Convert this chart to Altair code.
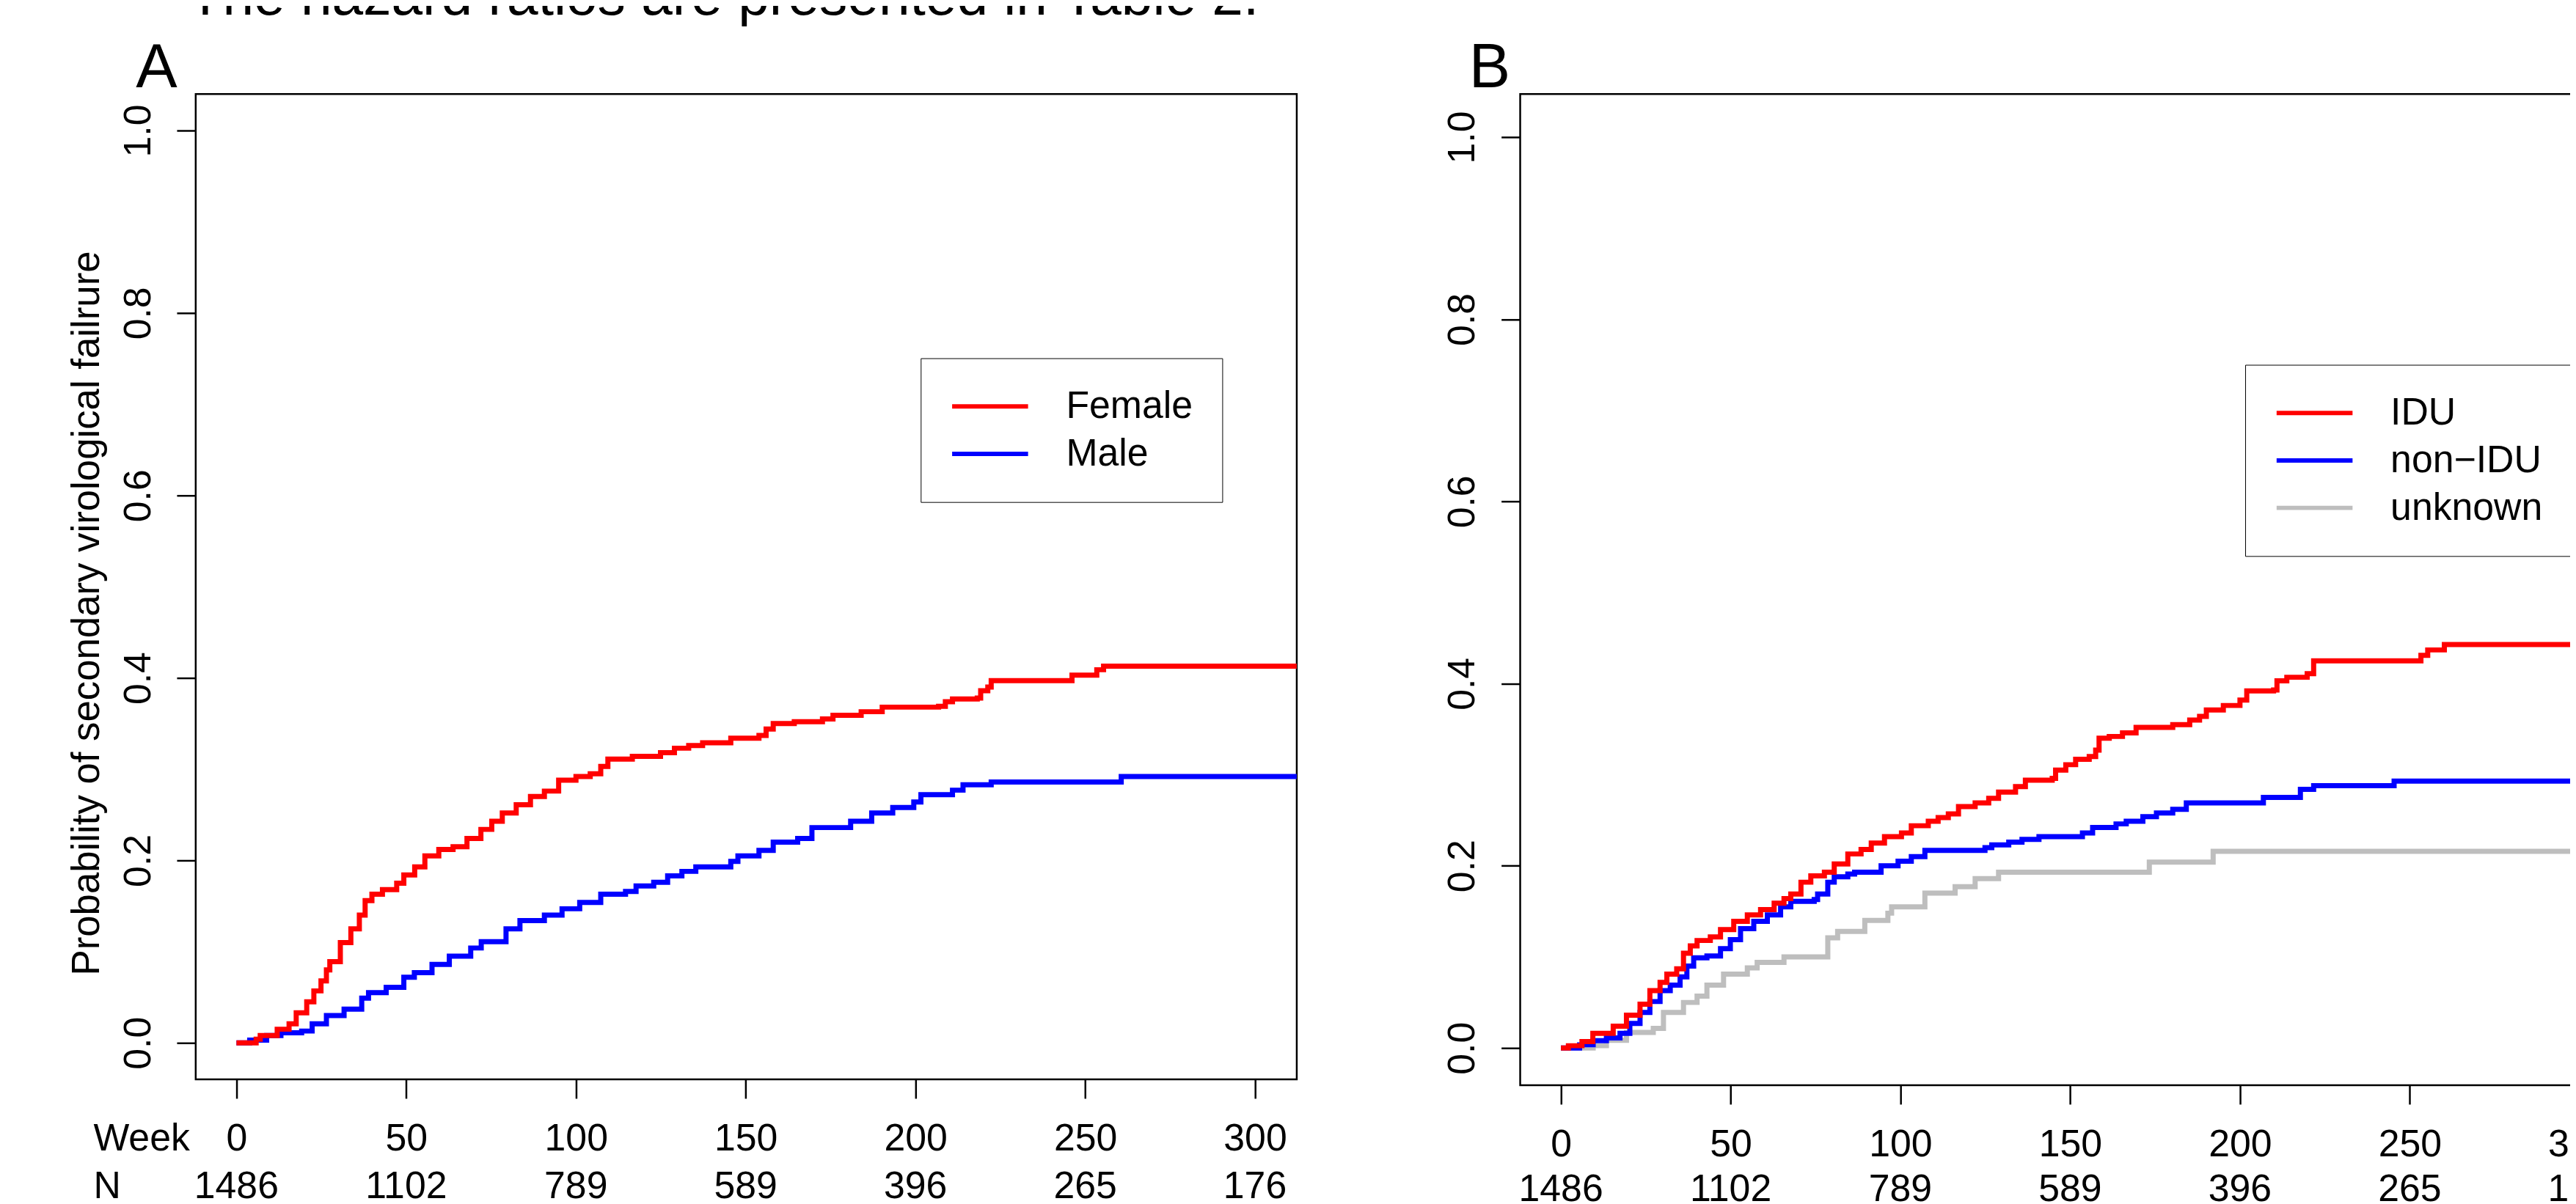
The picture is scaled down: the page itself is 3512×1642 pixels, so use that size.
import altair as alt
import pandas as pd

FONT = "Liberation Sans"

# ---- axis values / labels ----
week_ticks = [0, 50, 100, 150, 200, 250, 300]
n_at_risk = [1486, 1102, 789, 589, 396, 265, 176]
y_ticks = [0.0, 0.2, 0.4, 0.6, 0.8, 1.0]

# ---- Panel A: sex ----
female_week = [0, 5.8, 7.0, 12.0, 15.5, 17.6, 20.7, 22.8, 24.9, 26.5, 27.5, 30.6, 33.7, 36.2, 37.9,
               39.9, 43.0, 47.2, 49.3, 52.5, 55.5, 59.6, 63.8, 67.9, 72.0, 75.2, 78.3, 82.4, 86.6,
               90.7, 94.9, 100.0, 104.2, 107.3, 109.4, 116.6, 124.9, 129.0, 133.2, 137.3, 145.6,
               153.9, 156.0, 158.1, 164.3, 172.6, 175.7, 184.0, 190.2, 206.8, 208.8, 210.9, 218.2,
               219.2, 221.3, 222.3, 246.1, 253.4, 255.4]
female_prob = [0, 0.004, 0.008, 0.015, 0.021, 0.033, 0.045, 0.057, 0.068, 0.080, 0.089, 0.110, 0.125,
               0.140, 0.156, 0.163, 0.168, 0.175, 0.184, 0.193, 0.205, 0.212, 0.215, 0.224, 0.234,
               0.243, 0.252, 0.261, 0.270, 0.276, 0.288, 0.292, 0.295, 0.303, 0.311, 0.314, 0.318,
               0.323, 0.326, 0.329, 0.334, 0.337, 0.344, 0.350, 0.352, 0.355, 0.359, 0.363, 0.368,
               0.369, 0.374, 0.377, 0.378, 0.386, 0.390, 0.397, 0.403, 0.409, 0.413]

male_week = [0, 3.9, 8.9, 13.1, 19.2, 22.3, 26.5, 31.7, 36.9, 38.9, 44.1, 49.3, 52.4, 57.6, 62.7,
             69.0, 72.1, 79.4, 83.5, 90.7, 95.9, 101.1, 107.3, 114.6, 117.7, 122.9, 127.0, 131.2,
             135.3, 145.6, 147.7, 153.9, 158.1, 165.3, 169.5, 180.9, 187.1, 193.3, 199.5, 201.6,
             210.9, 214.0, 222.3, 260.6]
male_prob = [0, 0.003, 0.008, 0.011, 0.013, 0.021, 0.030, 0.037, 0.049, 0.055, 0.061, 0.072, 0.077,
             0.086, 0.095, 0.104, 0.111, 0.125, 0.134, 0.140, 0.147, 0.154, 0.163, 0.166, 0.172,
             0.176, 0.183, 0.188, 0.193, 0.199, 0.205, 0.211, 0.220, 0.224, 0.236, 0.243, 0.252,
             0.258, 0.264, 0.272, 0.277, 0.283, 0.286, 0.292]

# ---- Panel B: transmission group ----
idu_week = [0, 2.2, 6.2, 9.4, 15.4, 19.3, 23.3, 26.2, 29.2, 31.2, 34.1, 36.1, 38.1, 40.1, 44.0,
            47.0, 50.9, 54.9, 58.8, 62.8, 65.7, 67.7, 70.7, 73.6, 77.6, 80.5, 84.5, 88.4, 91.4,
            95.3, 100.3, 103.2, 108.2, 111.1, 114.1, 117.1, 122.0, 126.0, 128.9, 133.9, 136.8,
            144.7, 145.7, 148.7, 151.6, 155.6, 157.5, 158.5, 161.5, 165.4, 169.4, 180.2, 185.2,
            188.1, 190.1, 195.1, 200.0, 202.0, 209.9, 210.9, 213.8, 219.8, 221.7, 253.3, 255.3,
            260.2]
idu_prob = [0, 0.0025, 0.007, 0.016, 0.024, 0.036, 0.048, 0.063, 0.072, 0.081, 0.087, 0.104, 0.112,
            0.118, 0.122, 0.130, 0.139, 0.146, 0.152, 0.159, 0.164, 0.169, 0.182, 0.189, 0.193,
            0.202, 0.213, 0.218, 0.225, 0.232, 0.236, 0.244, 0.249, 0.253, 0.257, 0.265, 0.269,
            0.274, 0.281, 0.287, 0.294, 0.296, 0.305, 0.311, 0.317, 0.320, 0.327, 0.340, 0.342,
            0.346, 0.352, 0.355, 0.360, 0.364, 0.371, 0.376, 0.382, 0.392, 0.393, 0.403, 0.407,
            0.411, 0.425, 0.431, 0.437, 0.443]

nonidu_week = [0, 5.5, 9.5, 13.4, 17.4, 20.3, 23.3, 26.2, 29.2, 32.2, 35.1, 37.1, 39.1, 43.0, 47.0,
               49.9, 52.9, 56.8, 60.8, 64.7, 67.7, 74.6, 75.6, 78.6, 80.5, 84.5, 86.5, 94.3, 99.3,
               103.2, 107.2, 124.9, 126.9, 131.9, 135.8, 140.8, 153.6, 156.6, 163.5, 166.5, 171.4,
               175.4, 180.2, 184.2, 206.9, 217.8, 221.7, 245.4]
nonidu_prob = [0, 0.0035, 0.008, 0.011, 0.016, 0.027, 0.039, 0.051, 0.063, 0.069, 0.078, 0.090,
               0.099, 0.101, 0.109, 0.119, 0.131, 0.139, 0.146, 0.155, 0.161, 0.163, 0.169, 0.182,
               0.188, 0.191, 0.193, 0.200, 0.205, 0.210, 0.217, 0.220, 0.223, 0.226, 0.229, 0.232,
               0.236, 0.242, 0.246, 0.249, 0.254, 0.258, 0.262, 0.269, 0.275, 0.284, 0.288, 0.293]

unknown_week = [0, 9.5, 13.4, 19.3, 27.2, 30.2, 36.1, 40.1, 43.0, 47.9, 54.9, 57.8, 65.7, 78.6, 81.5,
                89.5, 96.3, 97.4, 107.2, 116.1, 122.0, 128.9, 173.3, 192.1]
unknown_prob = [0, 0.0025, 0.0085, 0.017, 0.0215, 0.039, 0.050, 0.057, 0.069, 0.081, 0.088, 0.094,
                0.100, 0.121, 0.128, 0.140, 0.148, 0.155, 0.170, 0.177, 0.186, 0.193, 0.204, 0.216]

END_WEEK = 330
X_DOMAIN = [-12.0, 312.3]
PW = 1508


def series_df(name, weeks, probs):
    w = list(weeks) + [END_WEEK]
    p = list(probs) + [probs[-1]]
    return pd.DataFrame({"group": name, "week": w, "prob": p})


def x_enc():
    axis = alt.Axis(values=week_ticks, format="d", tickSize=26, tickWidth=2.5, tickColor="black",
                    domain=False, grid=False, labelFontSize=52, labelPadding=71,
                    labelBaseline="alphabetic", labelFlush=False, labelOverlap=False,
                    labelColor="black", title=None)
    return alt.X("week:Q", scale=alt.Scale(domain=X_DOMAIN, nice=False, zero=False), axis=axis)


def y_enc(domain, title=None):
    kw = dict(values=y_ticks, format=".1f", tickSize=26, tickWidth=2.5, tickColor="black",
              domain=False, grid=False, labelFontSize=52, labelAngle=270, labelAlign="center",
              labelBaseline="alphabetic", labelPadding=37, labelColor="black")
    if title:
        kw.update(title=title, titleFontSize=53, titleFontWeight="normal", titleAngle=270,
                  titleBaseline="alphabetic", titleAlign="center", titleX=-133, titleY=711,
                  titleColor="black")
    else:
        kw.update(title=None)
    return alt.Y("prob:Q", scale=alt.Scale(domain=domain, nice=False, zero=False),
                 axis=alt.Axis(**kw))


def panel(letter, series, names, colors, ytitle, ydomain, height, legend_y, n_row_y,
          title_offset, title_dx, row_labels):
    legend = alt.Legend(title=None, orient="none", legendX=993, legendY=legend_y,
                        strokeColor="black", fillColor="white", padding=40,
                        symbolType="stroke", symbolSize=104 * 104, symbolStrokeWidth=6,
                        clipHeight=52, rowPadding=13, labelFontSize=52, labelOffset=49,
                        labelColor="black", labelLimit=0)
    color = alt.Color("group:N", scale=alt.Scale(domain=names, range=colors), legend=legend)
    layers = []
    for df in series:
        layers.append(
            alt.Chart(df).mark_line(interpolate="step-after", strokeWidth=7, clip=True)
            .encode(x=x_enc(), y=y_enc(ydomain, ytitle), color=color)
        )
    ndf = pd.DataFrame({"week": week_ticks, "n": n_at_risk})
    layers.append(
        alt.Chart(ndf).mark_text(fontSize=52, font=FONT, baseline="alphabetic", align="center",
                                 color="black")
        .encode(x=x_enc(), y=alt.value(n_row_y), text="n:Q")
    )
    if row_labels:
        lab = pd.DataFrame({"lab": ["Week"]})
        layers.append(
            alt.Chart(lab).mark_text(fontSize=52, font=FONT, baseline="alphabetic", align="left",
                                     color="black")
            .encode(x=alt.value(-140), y=alt.value(1447), text="lab:N")
        )
        lab2 = pd.DataFrame({"lab": ["N"]})
        layers.append(
            alt.Chart(lab2).mark_text(fontSize=52, font=FONT, baseline="alphabetic", align="left",
                                      color="black")
            .encode(x=alt.value(-140), y=alt.value(n_row_y), text="lab:N")
        )
    return alt.layer(*layers).properties(
        width=PW, height=height,
        view=alt.ViewBackground(stroke="black", strokeWidth=2.5, fill="white"),
        title=alt.TitleParams(letter, fontSize=85, font=FONT, fontWeight="normal", anchor="start",
                              frame="group", dx=title_dx, offset=title_offset,
                              baseline="alphabetic", color="black"),
    )


panel_a = panel(
    "A",
    [series_df("Male", male_week, male_prob), series_df("Female", female_week, female_prob)],
    ["Female", "Male"], ["#FF0000", "#0000FF"],
    "Probability of secondary virological failrure",
    [-0.04, 1.04], 1350, 362, 1513, -76, -82, True,
)

panel_b = panel(
    "B",
    [series_df("unknown", unknown_week, unknown_prob),
     series_df("non\u2212IDU", nonidu_week, nonidu_prob),
     series_df("IDU", idu_week, idu_prob)],
    ["IDU", "non\u2212IDU", "unknown"], ["#FF0000", "#0000FF", "#BEBEBE"],
    None, [-0.0409, 1.0473], 1358, 371, 1517, -76, -70, False,
)

chart = (
    alt.concat(panel_a, panel_b, columns=2, spacing=197)
    .resolve_scale(color="independent", x="independent", y="independent")
    .properties(
        title=alt.TitleParams("The hazard ratios are presented in Table 2.", fontSize=77,
                              font=FONT, fontWeight="normal", anchor="start", frame="bounds",
                              dx=166, offset=-47, baseline="alphabetic", color="black"),
        padding={"left": 83, "top": -54, "right": -72, "bottom": 0},
    )
    .configure_view(stroke="black", strokeWidth=2.5)
    .configure_axis(labelFont=FONT, titleFont=FONT)
    .configure_legend(labelFont=FONT)
    .configure(background="white")
)

chart.save("out.html", embed_options={"renderer": "svg", "actions": False})
